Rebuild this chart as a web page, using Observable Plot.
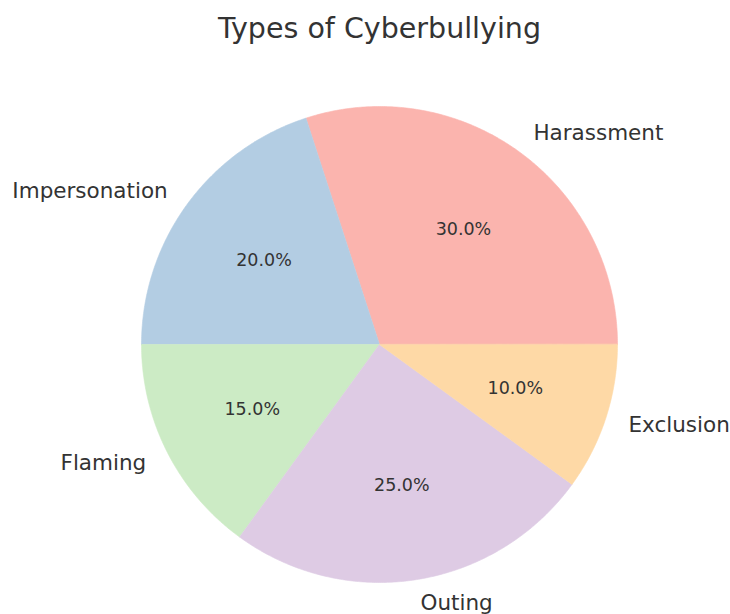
<!DOCTYPE html>
<html>
<head>
<meta charset="utf-8">
<script src="https://cdn.jsdelivr.net/npm/d3@7"></script>
<script src="https://cdn.jsdelivr.net/npm/@observablehq/plot@0.6"></script>
<style>
  html, body { margin: 0; padding: 0; background: #fff; }
</style>
</head>
<body>
<div id="chart"></div>
<script>
const title = "Types of Cyberbullying";
const categories = ["Harassment", "Impersonation", "Flaming", "Outing", "Exclusion"];
const values = [30, 20, 15, 25, 10];
const colors = ["#fbb4ae", "#b3cde3", "#ccebc5", "#decbe4", "#fed9a6"];

const W = 730, H = 614;
const cx = 379, cy = 344, R = 238; // pixel layout of the pie

const total = d3.sum(values);
let cum = 0;
const slices = categories.map((c, i) => {
  const a0 = 2 * Math.PI * cum / total;
  cum += values[i];
  const a1 = 2 * Math.PI * cum / total;
  return {cat: c, value: values[i], a0, a1, mid: (a0 + a1) / 2};
});

// polygon outline of each wedge (unit-radius coordinates)
const wedgePts = [];
for (const s of slices) {
  wedgePts.push({cat: s.cat, x: 0, y: 0});
  const n = Math.max(2, Math.ceil((s.a1 - s.a0) / (Math.PI / 360)));
  for (let k = 0; k <= n; k++) {
    const a = s.a0 + (s.a1 - s.a0) * k / n;
    wedgePts.push({cat: s.cat, x: Math.cos(a), y: Math.sin(a)});
  }
}

const labels = slices.map(s => ({
  cat: s.cat,
  x: 1.1 * Math.cos(s.mid), y: 1.1 * Math.sin(s.mid),
  px: 0.6 * Math.cos(s.mid), py: 0.6 * Math.sin(s.mid),
  pct: (100 * s.value / total).toFixed(1) + "%"
}));

const font = "DejaVu Sans";
const textColor = "#333333";

const chart = Plot.plot({
  width: W, height: H,
  margin: 0,
  style: {fontFamily: font, background: "#fff"},
  x: {domain: [-cx / R, (W - cx) / R], axis: null},
  y: {domain: [-(H - cy) / R, cy / R], axis: null},
  color: {domain: categories, range: colors},
  marks: [
    Plot.line(wedgePts, {x: "x", y: "y", z: "cat", fill: "cat", stroke: "cat", strokeWidth: 0.6, curve: "linear-closed"}),
    Plot.text(labels.filter(d => d.x >= 0), {x: "x", y: "y", text: "cat", textAnchor: "start", lineAnchor: "middle", fontSize: 21.5, fill: textColor}),
    Plot.text(labels.filter(d => d.x < 0), {x: "x", y: "y", text: "cat", textAnchor: "end", lineAnchor: "middle", fontSize: 21.5, fill: textColor}),
    Plot.text(labels, {x: "px", y: "py", text: "pct", textAnchor: "middle", lineAnchor: "middle", fontSize: 17.5, fill: textColor}),
    Plot.text([title], {x: () => 0, frameAnchor: "top", lineAnchor: "middle", dy: 28, text: d => d, fontSize: 28.5, fill: textColor})
  ]
});
document.getElementById("chart").appendChild(chart);
</script>
</body>
</html>
